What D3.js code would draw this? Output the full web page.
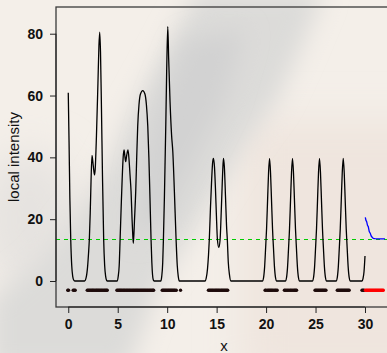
<!DOCTYPE html>
<html>
<head>
<meta charset="utf-8">
<script src="https://cdn.jsdelivr.net/npm/d3@7"></script>
<style>
  body { margin: 0; background: #f3eee8; }
  svg { display: block; }
  .tick text { font-family: "Liberation Sans", Arial, sans-serif; font-weight: bold; font-size: 14px; fill: #111; }
  .tick line { stroke: #222; }
</style>
</head>
<body>
<div id="chart"></div>
<script>
// local intensity estimate as [x, value]
const intensity = [
  [0, 60.9], [0.08, 45], [0.16, 27], [0.25, 13.4], [0.35, 5], [0.45, 1.5], [0.57, 0.2], [0.68, 0],
  [1.65, 0], [1.8, 1], [1.95, 4.5], [2.05, 9], [2.13, 13.4], [2.22, 22], [2.3, 32], [2.4, 40.6],
  [2.52, 37.5], [2.65, 34.3], [2.72, 36], [2.85, 47], [3.0, 64], [3.1, 76], [3.18, 80.5], [3.26, 74],
  [3.36, 55], [3.46, 34], [3.58, 13.4], [3.68, 5], [3.78, 1.5], [3.88, 0.2], [3.95, 0],
  [4.93, 0], [5.05, 1.5], [5.15, 5], [5.24, 13.4], [5.35, 24], [5.45, 33], [5.55, 40], [5.64, 42.4],
  [5.72, 40.5], [5.8, 38.6], [5.9, 40.5], [6.04, 42.4], [6.15, 39], [6.25, 34], [6.35, 28.9], [6.45, 20],
  [6.52, 15], [6.58, 12.2], [6.7, 20], [6.82, 29], [6.92, 40], [7.02, 50], [7.15, 57], [7.3, 60.5],
  [7.53, 61.6], [7.75, 60.5], [7.9, 57], [8.04, 50], [8.15, 40], [8.26, 27], [8.37, 13.4], [8.45, 6],
  [8.52, 2], [8.6, 0.3], [8.68, 0],
  [9.35, 0], [9.45, 1.5], [9.55, 6], [9.62, 13.4], [9.72, 27], [9.86, 50.5], [9.95, 68], [10.06, 82.3],
  [10.15, 72], [10.29, 58], [10.45, 47], [10.57, 41.8], [10.73, 28.9], [10.9, 13.5], [11.02, 5],
  [11.12, 1.5], [11.23, 0],
  [13.83, 0], [13.95, 1], [14.08, 4], [14.18, 8.5], [14.26, 13.4], [14.38, 24], [14.5, 33], [14.6, 38.5],
  [14.68, 39.7], [14.78, 37], [14.88, 30], [14.98, 21], [15.08, 13.4], [15.22, 10.9], [15.35, 13.4],
  [15.45, 21], [15.55, 30], [15.62, 36], [15.69, 39.7], [15.78, 37], [15.9, 27], [16.0, 18], [16.08, 13.4],
  [16.18, 6], [16.3, 2], [16.44, 0],
  [19.63, 0], [19.75, 1.2], [19.85, 4.5], [19.95, 10.5], [20.05, 17], [20.15, 26], [20.25, 35], [20.35, 39.7],
  [20.45, 35], [20.55, 26], [20.65, 17], [20.75, 10.5], [20.85, 4.5], [20.95, 1.2], [21.07, 0],
  [21.95, 0], [22.07, 1.2], [22.17, 4.5], [22.27, 10.5], [22.37, 17], [22.47, 26], [22.57, 35], [22.67, 39.7],
  [22.77, 35], [22.87, 26], [22.97, 17], [23.07, 10.5], [23.17, 4.5], [23.27, 1.2], [23.39, 0],
  [24.68, 0], [24.8, 1.2], [24.9, 4.5], [25.0, 10.5], [25.1, 17], [25.2, 26], [25.3, 35], [25.4, 39.7],
  [25.5, 35], [25.6, 26], [25.7, 17], [25.8, 10.5], [25.9, 4.5], [26.0, 1.2], [26.12, 0],
  [27.08, 0], [27.2, 1.2], [27.3, 4.5], [27.4, 10.5], [27.5, 17], [27.6, 26], [27.7, 35], [27.8, 39.7],
  [27.9, 35], [28.0, 26], [28.1, 17], [28.2, 10.5], [28.3, 4.5], [28.4, 1.2], [28.52, 0],
  [29.7, 0], [29.8, 0.8], [29.9, 3], [30, 8.1]
];

// forecast part, blue
const forecast = [
  [30.03, 20.6], [30.1, 19.6], [30.17, 19.2], [30.25, 18.0], [30.33, 17.6], [30.43, 16.0], [30.54, 15.4],
  [30.62, 14.6], [30.68, 14.3], [30.84, 13.8], [31.01, 13.7], [31.5, 13.6], [32.02, 13.6]
];

const threshold = 13.4;
const eventLevel = -3;

// observed events (black) and future events (red)
const events = [
  -0.05, 0.03, 0.5, 0.6, 0.7,
  1.92, 2.02, 2.12, 2.22, 2.33, 2.43, 2.52, 2.62, 2.73, 2.83, 2.92, 3.02, 3.12, 3.22, 3.33, 3.43, 3.54,
  3.65, 3.75, 3.85, 3.94,
  4.92, 5.02, 5.12, 5.22, 5.31, 5.41, 5.52, 5.62, 5.72, 5.83, 5.93, 6.03, 6.14, 6.24, 6.35, 6.46, 6.57,
  6.67, 6.78, 6.88, 6.98, 7.08, 7.19, 7.3, 7.4, 7.51, 7.61, 7.72, 7.82, 7.93, 8.03, 8.14, 8.25, 8.35,
  8.46, 8.56, 8.63,
  9.5, 9.6, 9.7, 9.8, 9.9, 10.0, 10.1, 10.2, 10.3, 10.4, 10.5, 10.6, 10.7, 10.8, 10.92, 11.35,
  14.17, 14.27, 14.37, 14.48, 14.58, 14.68, 14.8, 14.9, 15.0, 15.1, 15.2, 15.3, 15.42, 15.52, 15.62,
  15.72, 15.82, 15.92, 16.02, 16.12,
  19.9, 20.0, 20.15, 20.25, 20.35, 20.45, 20.55, 20.65, 20.78, 20.9, 21.0, 21.12,
  21.85, 21.95, 22.08, 22.2, 22.32, 22.45, 22.55, 22.68, 22.8, 22.9, 23.0, 23.08,
  24.95, 25.05, 25.15, 25.25, 25.35, 25.45, 25.55, 25.65, 25.75, 25.85, 25.95, 26.05,
  27.2, 27.3, 27.4, 27.5, 27.6, 27.7, 27.8, 27.9, 28.0, 28.1, 28.2, 28.3, 28.4,
  29.7, 29.8, 29.9
];
const futureEvents = [
  30.05, 30.15, 30.25, 30.35, 30.45, 30.55, 30.65, 30.75, 30.85, 30.95,
  31.05, 31.15, 31.25, 31.35, 31.45, 31.55, 31.65, 31.75, 31.85
];

const xTicks = [0, 5, 10, 15, 20, 25, 30];
const yTicks = [0, 20, 40, 60, 80];

const width = 387, height = 353;
const plot = { left: 56, right: 392, top: 7, bottom: 307 };

const svg = d3.select('#chart').append('svg')
  .attr('width', width)
  .attr('height', height);

const defs = svg.append('defs');
defs.append('filter').attr('id', 'blur').attr('x', '-30%').attr('y', '-30%').attr('width', '160%').attr('height', '160%')
  .append('feGaussianBlur').attr('stdDeviation', 12);
defs.append('filter').attr('id', 'blur2').attr('x', '-30%').attr('y', '-30%').attr('width', '160%').attr('height', '160%')
  .append('feGaussianBlur').attr('stdDeviation', 20);
defs.append('clipPath').attr('id', 'plotclip')
  .append('rect')
  .attr('x', plot.left).attr('y', plot.top)
  .attr('width', plot.right - plot.left).attr('height', plot.bottom - plot.top);

// blurry photo behind the chart
const bg = svg.append('g').attr('class', 'background');
bg.append('rect').attr('width', width).attr('height', height).attr('fill', '#f4efe9');
bg.append('rect').attr('x', 240).attr('y', 120).attr('width', 200).attr('height', 260)
  .attr('fill', '#efe5de').attr('filter', 'url(#blur2)');
bg.append('ellipse').attr('cx', 30).attr('cy', 220).attr('rx', 50).attr('ry', 70)
  .attr('fill', '#e6e3e0').attr('filter', 'url(#blur2)');
bg.append('path')
  .attr('d', 'M197,-10 L325,-10 L300,50 L277,100 L248,140 L218,190 L188,240 L158,290 L128,370 L-10,370 L-10,300 L40,260 L80,210 L110,160 L132,110 L165,50 Z')
  .attr('fill', '#dcdbd9').attr('filter', 'url(#blur)');
bg.append('path')
  .attr('d', 'M185,40 L245,30 L225,100 L195,160 L165,220 L135,240 L140,170 L160,100 Z')
  .attr('fill', '#d2d2d2').attr('filter', 'url(#blur)');

const x = d3.scaleLinear().domain([-1.24, 32.73]).range([plot.left, plot.right]);
const y = d3.scaleLinear().domain([-8.41, 88.64]).range([plot.bottom, plot.top]);

const chart = svg.append('g').attr('clip-path', 'url(#plotclip)');

chart.append('line')
  .attr('x1', plot.left).attr('x2', plot.right)
  .attr('y1', Math.round(y(threshold)) - 0.5).attr('y2', Math.round(y(threshold)) - 0.5)
  .attr('stroke', '#00cc00').attr('stroke-width', 1.2)
  .attr('stroke-dasharray', '4,4');

const line = d3.line()
  .x(d => x(d[0]))
  .y(d => y(d[1]));

chart.append('path')
  .datum(intensity)
  .attr('fill', 'none')
  .attr('stroke', '#000')
  .attr('stroke-width', 1.3)
  .attr('d', line.curve(d3.curveMonotoneX));

chart.append('path')
  .datum(forecast)
  .attr('fill', 'none')
  .attr('stroke', '#0000ff')
  .attr('stroke-width', 1.3)
  .attr('d', line.curve(d3.curveLinear));

chart.selectAll('.event')
  .data(events)
  .join('circle')
  .attr('class', 'event')
  .attr('cx', d => x(d))
  .attr('cy', y(eventLevel))
  .attr('r', 1.7)
  .attr('fill', '#1e0b0b');

chart.selectAll('.future')
  .data(futureEvents)
  .join('circle')
  .attr('class', 'future')
  .attr('cx', d => x(d))
  .attr('cy', y(eventLevel))
  .attr('r', 1.7)
  .attr('fill', '#ff0000');

// box
svg.append('rect')
  .attr('x', plot.left).attr('y', plot.top)
  .attr('width', plot.right - plot.left).attr('height', plot.bottom - plot.top)
  .attr('fill', 'none').attr('stroke', '#3a3a3a').attr('stroke-width', 1.3);

const xAxis = svg.append('g')
  .attr('transform', `translate(0,${plot.bottom})`)
  .call(d3.axisBottom(x).tickValues(xTicks).tickSize(6).tickSizeOuter(0).tickPadding(6));
xAxis.select('.domain')
  .attr('d', `M${x(0)},0H${x(30)}`)
  .attr('stroke', '#222');

const yAxis = svg.append('g')
  .attr('transform', `translate(${plot.left},0)`)
  .call(d3.axisLeft(y).tickValues(yTicks).tickSize(6).tickSizeOuter(0).tickPadding(7));
yAxis.select('.domain')
  .attr('d', `M0,${y(0)}V${y(80)}`)
  .attr('stroke', '#222');

svg.append('text')
  .attr('x', (plot.left + plot.right) / 2)
  .attr('y', 351)
  .attr('text-anchor', 'middle')
  .style('font-family', '"Liberation Sans", Arial, sans-serif')
  .style('font-size', '15px')
  .attr('fill', '#111')
  .text('x');

svg.append('text')
  .attr('transform', `translate(19,${(plot.top + plot.bottom) / 2}) rotate(-90)`)
  .attr('text-anchor', 'middle')
  .style('font-family', '"Liberation Sans", Arial, sans-serif')
  .style('font-size', '15px')
  .attr('fill', '#111')
  .text('local intensity');
</script>
</body>
</html>
